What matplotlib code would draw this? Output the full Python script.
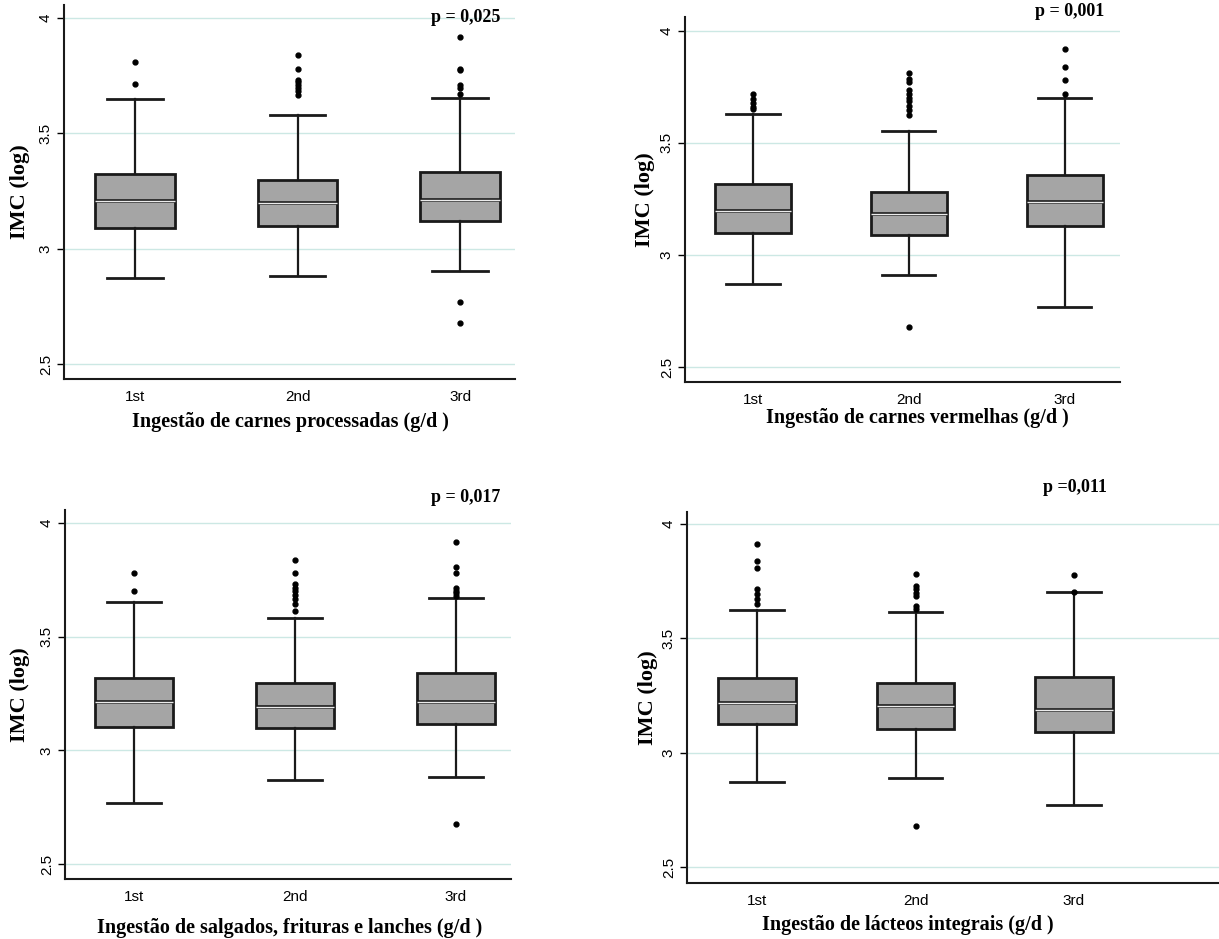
import numpy as np
import matplotlib
matplotlib.use("Agg")
import matplotlib.pyplot as plt
import matplotlib.patheffects as pe

# tercile groups shared by all panels
groups = ["1st", "2nd", "3rd"]

xlabels = [
    "Ingestão de carnes processadas (g/d )",
    "Ingestão de carnes vermelhas (g/d )",
    "Ingestão de salgados, frituras e lanches (g/d )",
    "Ingestão de lácteos integrais (g/d )",
]
pvalues = ["p = 0,025", "p = 0,001", "p = 0,017", "p =0,011"]

# box stats per panel, one value per tercile
q1 = [
    [3.090, 3.097, 3.118],
    [3.100, 3.088, 3.127],
    [3.101, 3.096, 3.115],
    [3.125, 3.103, 3.092],
]
med = [
    [3.205, 3.197, 3.212],
    [3.196, 3.185, 3.238],
    [3.211, 3.189, 3.211],
    [3.217, 3.205, 3.186],
]
q3 = [
    [3.324, 3.298, 3.331],
    [3.317, 3.283, 3.359],
    [3.320, 3.298, 3.338],
    [3.327, 3.304, 3.331],
]
whislo = [
    [2.871, 2.883, 2.902],
    [2.871, 2.912, 2.768],
    [2.769, 2.871, 2.883],
    [2.871, 2.888, 2.769],
]
whishi = [
    [3.650, 3.581, 3.653],
    [3.628, 3.551, 3.702],
    [3.651, 3.582, 3.671],
    [3.625, 3.616, 3.702],
]
fliers = [
    [[3.808, 3.714],
     [3.838, 3.779, 3.733, 3.721, 3.708, 3.697, 3.685, 3.668],
     [3.916, 3.780, 3.773, 3.711, 3.697, 3.671, 2.767, 2.678]],
    [[3.717, 3.695, 3.677, 3.659, 3.650],
     [3.812, 3.784, 3.774, 3.734, 3.719, 3.699, 3.685, 3.665, 3.647, 3.625, 2.677],
     [3.917, 3.838, 3.781, 3.719]],
    [[3.778, 3.702],
     [3.839, 3.781, 3.731, 3.716, 3.702, 3.683, 3.664, 3.642, 3.613],
     [3.917, 3.807, 3.781, 3.716, 3.702, 3.690, 3.680, 2.678]],
    [[3.914, 3.837, 3.808, 3.714, 3.695, 3.670, 3.648],
     [3.779, 3.728, 3.714, 3.696, 3.685, 3.641, 3.627, 2.679],
     [3.776, 3.702]],
]
yticks = [2.5, 3, 3.5, 4]

W, H = 1219, 939
# axes boxes in pixels: left, top, right, bottom
boxes = [
    (64, 5, 515, 379),
    (685, 17, 1120, 382),
    (65, 510, 511, 879),
    (687, 512, 1219, 883),
]
xlims = [(0.563, 3.338), (0.564, 3.353), (0.571, 3.342), (0.558, 3.915)]
ylims = [(2.435, 4.056), (2.433, 4.062), (2.434, 4.057), (2.430, 4.052)]
# label / p-value positions in pixels
xlab_pos = [(290, 422), (917, 418), (290, 928), (908, 925)]
ylab_x = [20, 645, 20, 648]
p_pos = [(466, 18), (1070, 12), (466, 498), (1075, 487)]

serif = ["Liberation Serif", "DejaVu Serif"]
plt.rcParams["font.family"] = ["Liberation Sans", "DejaVu Sans"]

fig = plt.figure(figsize=(W / 100, H / 100), dpi=100)

for i in range(4):
    l, t, r, b = boxes[i]
    ax = fig.add_axes([l / W, 1 - b / H, (r - l) / W, (b - t) / H])

    stats = []
    for j in range(3):
        stats.append(dict(q1=q1[i][j], med=med[i][j], q3=q3[i][j],
                          whislo=whislo[i][j], whishi=whishi[i][j],
                          fliers=fliers[i][j], label=groups[j]))

    ax.bxp(stats, positions=[1, 2, 3], widths=0.49, capwidths=0.34,
           patch_artist=True, showfliers=True,
           boxprops=dict(facecolor="#a5a5a5", edgecolor="#1a1a1a", linewidth=2.0),
           medianprops=dict(color="#ececec", linewidth=1.0,
                            path_effects=[pe.Stroke(linewidth=2.6, foreground="#1a1a1a"), pe.Normal()]),
           whiskerprops=dict(color="#1a1a1a", linewidth=1.6),
           capprops=dict(color="#1a1a1a", linewidth=2.0),
           flierprops=dict(marker="o", markerfacecolor="black", markeredgecolor="black",
                           markersize=3.5, linestyle="none"))

    ax.set_xlim(*xlims[i])
    ax.set_ylim(*ylims[i])
    ax.set_yticks(yticks)
    ax.set_yticklabels(["2.5", "3", "3.5", "4"], rotation=90, va="center", fontsize=11)
    ax.set_xticks([1, 2, 3])
    ax.set_xticklabels(groups, fontsize=11)
    ax.tick_params(axis="x", length=0, pad=8)
    ax.tick_params(axis="y", length=5, width=1, pad=3)
    ax.yaxis.grid(True, color="#cce8e4", linewidth=1.0)
    ax.set_axisbelow(True)
    for s in ["top", "right"]:
        ax.spines[s].set_visible(False)
    for s in ["left", "bottom"]:
        ax.spines[s].set_linewidth(1.5)
        ax.spines[s].set_color("#1a1a1a")

    fig.text(xlab_pos[i][0] / W, 1 - xlab_pos[i][1] / H, xlabels[i],
             ha="center", va="center", family=serif, fontweight="bold", fontsize=14.5)
    fig.text(ylab_x[i] / W, 1 - ((t + b) / 2) / H, "IMC (log)", rotation=90,
             ha="center", va="center", family=serif, fontweight="bold", fontsize=16)
    fig.text(p_pos[i][0] / W, 1 - p_pos[i][1] / H, pvalues[i],
             ha="center", va="center", family=serif, fontweight="bold", fontsize=13)

fig.savefig("out.png", dpi=100, facecolor="white")
